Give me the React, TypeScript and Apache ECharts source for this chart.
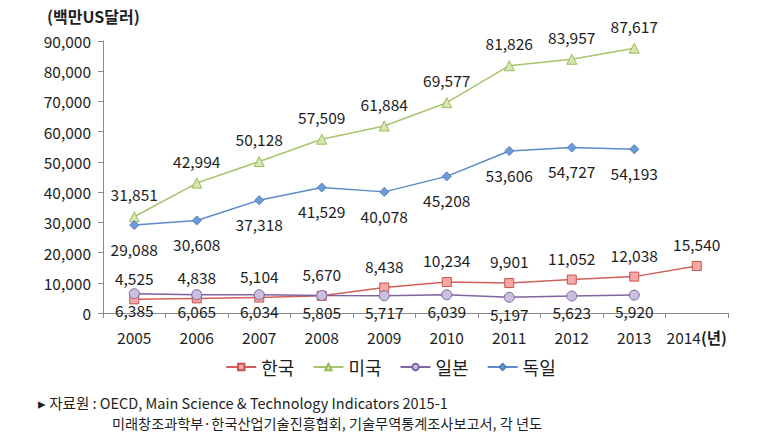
import React, { useEffect, useRef } from "react";
import * as echarts from "echarts";

const years = ["2005", "2006", "2007", "2008", "2009", "2010", "2011", "2012", "2013", "2014"];
const korea = [4525, 4838, 5104, 5670, 8438, 10234, 9901, 11052, 12038, 15540];
const usa = [31851, 42994, 50128, 57509, 61884, 69577, 81826, 83957, 87617];
const japan = [6385, 6065, 6034, 5805, 5717, 6039, 5197, 5623, 5920];
const germany = [29088, 30608, 37318, 41529, 40078, 45208, 53606, 54727, 54193];
const seriesNames = ["한국", "미국", "일본", "독일"];

const FONT = "'Noto Sans CJK KR', 'Noto Sans', sans-serif";
const fmt = (v: number) => v.toLocaleString("en-US");

export default function App() {
  const ref = useRef<HTMLDivElement>(null);
  useEffect(() => {
    if (!ref.current) return;
    const chart = echarts.init(ref.current, undefined, { renderer: "svg" });
    const label = (pos: string, distance: number) => ({
      show: true,
      position: pos,
      distance,
      fontSize: 15.5,
      fontFamily: FONT,
      color: "#1e1e1e",
      formatter: (p: any) => fmt(p.value),
    });
    chart.setOption({
      animation: false,
      backgroundColor: "#ffffff",
      textStyle: { fontFamily: FONT },
      grid: { left: 103, right: 53, top: 41, bottom: 130, containLabel: false },
      legend: {
        data: seriesNames,
        bottom: 62,
        left: "center",
        itemWidth: 30,
        itemHeight: 8,
        itemGap: 18,
        textStyle: { fontSize: 18, fontFamily: FONT, color: "#1e1e1e" },
      },
      xAxis: {
        type: "category",
        data: years,
        boundaryGap: true,
        axisLine: { lineStyle: { color: "#8a8a8a" } },
        axisTick: { show: true, interval: 0, length: 5, lineStyle: { color: "#8a8a8a" } },
        axisLabel: {
          interval: 0,
          fontSize: 15.5,
          color: "#1e1e1e",
          margin: 16,
          fontFamily: FONT,
          formatter: (v: string) => (v === "2014" ? "2014{b|(년)}" : v),
          rich: { b: { fontSize: 15.5, fontWeight: "bold", color: "#1e1e1e", fontFamily: FONT } },
        },
      },
      yAxis: {
        type: "value",
        min: 0,
        max: 90000,
        interval: 10000,
        axisLine: { show: true, lineStyle: { color: "#8a8a8a" } },
        axisTick: { show: true, length: 5, lineStyle: { color: "#8a8a8a" } },
        splitLine: { show: false },
        axisLabel: {
          fontSize: 15.5,
          color: "#1e1e1e",
          margin: 12,
          fontFamily: FONT,
          formatter: (v: number) => fmt(v),
        },
      },
      series: [
        {
          name: "한국",
          type: "line",
          data: korea,
          symbol: "rect",
          symbolSize: 9,
          lineStyle: { color: "#d0605c", width: 1.5 },
          itemStyle: { color: "#f4a9a7", borderColor: "#c8524e", borderWidth: 1 },
          label: label("top", 9),
        },
        {
          name: "미국",
          type: "line",
          data: usa,
          symbol: "triangle",
          symbolSize: 10,
          lineStyle: { color: "#a8c46c", width: 1.5 },
          itemStyle: { color: "#d6e6b2", borderColor: "#9bbb59", borderWidth: 1 },
          label: label("top", 9),
        },
        {
          name: "일본",
          type: "line",
          data: japan,
          symbol: "circle",
          symbolSize: 10,
          lineStyle: { color: "#8064a2", width: 1.5 },
          itemStyle: { color: "#cbbfe0", borderColor: "#8064a2", borderWidth: 1 },
          label: label("bottom", 3),
        },
        {
          name: "독일",
          type: "line",
          data: germany,
          symbol: "diamond",
          symbolSize: 9,
          lineStyle: { color: "#5b8bc8", width: 1.5 },
          itemStyle: { color: "#6e9ad6", borderColor: "#4f81bd", borderWidth: 1 },
          label: label("bottom", 11),
        },
      ],
      graphic: [
        {
          type: "text",
          left: 47,
          top: 8,
          style: {
            text: "(백만US달러)",
            fontSize: 16,
            fontWeight: "bold",
            fontFamily: FONT,
            fill: "#1e1e1e",
          },
        },
        {
          type: "text",
          left: 38,
          top: 395,
          style: {
            text: "▸ 자료원 : OECD, Main Science & Technology Indicators 2015-1",
            fontSize: 14.5,
            fontFamily: "'Liberation Sans Narrow', 'Noto Sans CJK KR', sans-serif",
            fill: "#1e1e1e",
          },
        },
        {
          type: "text",
          left: 112,
          top: 416,
          style: {
            text: "미래창조과학부·한국산업기술진흥협회, 기술무역통계조사보고서, 각 년도",
            fontSize: 14.2,
            fontFamily: FONT,
            fill: "#1e1e1e",
          },
        },
      ],
    });
    return () => chart.dispose();
  }, []);
  return <div ref={ref} style={{ width: 781, height: 443, position: "absolute", left: 0, top: 0 }} />;
}
